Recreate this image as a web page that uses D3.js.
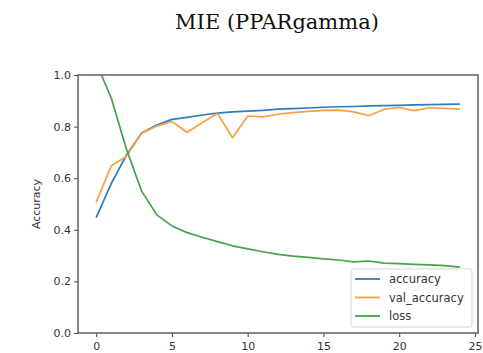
<!DOCTYPE html>
<html>
<head>
<meta charset="utf-8">
<script src="https://cdn.jsdelivr.net/npm/d3@7"></script>
<style>
  html, body { margin: 0; padding: 0; background: #fff; }
  svg { display: block; }
</style>
</head>
<body>
<svg id="chart" width="483" height="353"></svg>
<script>
const title = "MIE (PPARgamma)";
const yLabel = "Accuracy";
const epochs = d3.range(0, 25);
const accuracy = [0.447, 0.58, 0.69, 0.775, 0.806, 0.828, 0.836, 0.845, 0.852, 0.857, 0.860, 0.863, 0.868, 0.870, 0.872, 0.875, 0.877, 0.878, 0.880, 0.881, 0.882, 0.884, 0.885, 0.886, 0.887];
const valAccuracy = [0.507, 0.648, 0.685, 0.774, 0.802, 0.82, 0.778, 0.815, 0.852, 0.757, 0.841, 0.838, 0.848, 0.854, 0.859, 0.863, 0.864, 0.857, 0.842, 0.867, 0.874, 0.862, 0.873, 0.871, 0.868];
const loss = [1.048, 0.91, 0.712, 0.55, 0.458, 0.415, 0.389, 0.371, 0.354, 0.338, 0.326, 0.315, 0.305, 0.298, 0.293, 0.287, 0.283, 0.276, 0.279, 0.271, 0.269, 0.266, 0.264, 0.261, 0.255];
const seriesNames = ["accuracy", "val_accuracy", "loss"];
const seriesColors = ["#2f7bbd", "#f7a046", "#45a349"];
const xTicks = [0, 5, 10, 15, 20, 25];
const yTicks = [0.0, 0.2, 0.4, 0.6, 0.8, 1.0];

const svg = d3.select("#chart");
const L = 78, R = 478, T = 75, B = 333;

const x = d3.scaleLinear().domain([-1.2, 25.2]).range([L, R]);
const y = d3.scaleLinear().domain([0, 1]).range([B, T]);

// title
svg.append("text")
  .attr("x", 277).attr("y", 29)
  .attr("text-anchor", "middle")
  .attr("font-family", "'DejaVu Serif', 'Liberation Serif', serif")
  .attr("font-size", 21)
  .attr("fill", "#111")
  .text(title);

svg.append("defs").append("clipPath").attr("id", "clip")
  .append("rect").attr("x", L).attr("y", T).attr("width", R - L).attr("height", B - T);

const series = [accuracy, valAccuracy, loss];
const line = d3.line().x((d, i) => x(epochs[i])).y(d => y(d));
const g = svg.append("g").attr("clip-path", "url(#clip)");
series.forEach((s, k) => {
  g.append("path").datum(s)
    .attr("d", line)
    .attr("fill", "none")
    .attr("stroke", seriesColors[k])
    .attr("stroke-width", 1.7)
    .attr("stroke-linejoin", "round");
});

// axes
const xAxis = d3.axisBottom(x).tickValues(xTicks).tickFormat(d3.format("d")).tickSize(4).tickSizeOuter(0);
const yAxis = d3.axisLeft(y).tickValues(yTicks).tickFormat(d3.format(".1f")).tickSize(4).tickSizeOuter(0);
const gx = svg.append("g").attr("transform", `translate(0,${B})`).call(xAxis);
const gy = svg.append("g").attr("transform", `translate(${L},0)`).call(yAxis);
[gx, gy].forEach(a => {
  a.select(".domain").remove();
  a.selectAll("line").attr("stroke", "#444").attr("stroke-width", 1);
  a.selectAll("text").attr("font-family", "'DejaVu Sans', sans-serif").attr("font-size", 11).attr("fill", "#333");
});
gx.selectAll("text").attr("dy", "0.95em");
gy.selectAll("text").attr("x", -7);

// spines
svg.append("rect").attr("x", L).attr("y", T).attr("width", R - L).attr("height", B - T)
  .attr("fill", "none").attr("stroke", "#555").attr("stroke-width", 1.4);

// y label
svg.append("text")
  .attr("transform", `translate(40,${(T + B) / 2}) rotate(-90)`)
  .attr("text-anchor", "middle")
  .attr("font-family", "'DejaVu Sans', sans-serif")
  .attr("font-size", 11)
  .attr("fill", "#333")
  .text(yLabel);

// legend
const lg = svg.append("g");
lg.append("rect").attr("x", 351).attr("y", 269).attr("width", 121).attr("height", 58)
  .attr("rx", 2).attr("fill", "#fff").attr("fill-opacity", 0.85)
  .attr("stroke", "#d5d5d5").attr("stroke-width", 1);
seriesNames.forEach((n, k) => {
  const yy = 279 + k * 18.5;
  lg.append("line").attr("x1", 355).attr("x2", 380).attr("y1", yy).attr("y2", yy)
    .attr("stroke", seriesColors[k]).attr("stroke-width", 1.8);
  lg.append("text").attr("x", 389).attr("y", yy).attr("dy", "0.35em")
    .attr("font-family", "'DejaVu Sans', sans-serif").attr("font-size", 11.5)
    .attr("fill", "#333").text(n);
});
</script>
</body>
</html>
